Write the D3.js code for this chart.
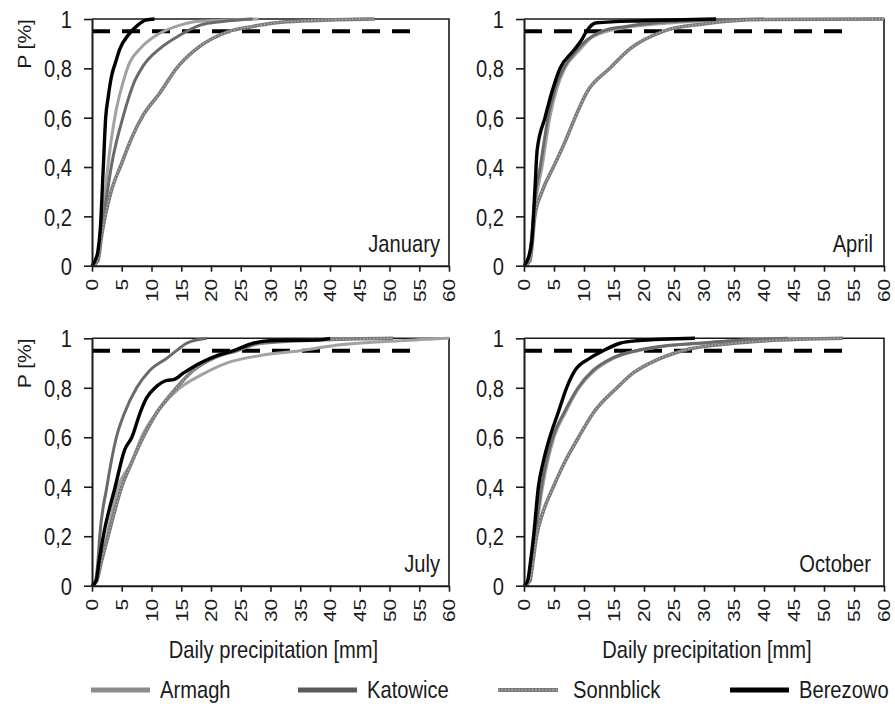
<!DOCTYPE html>
<html>
<head>
<meta charset="utf-8">
<script src="https://cdn.jsdelivr.net/npm/d3@7"></script>
<style>
  html, body { margin: 0; padding: 0; background: #fff; }
  svg { display: block; }
  text { font-family: "Liberation Sans", Arial, sans-serif; fill: #1a1a1a; }
</style>
</head>
<body>
<svg id="chart" width="895" height="714"></svg>
<script>
// ---------------- data ----------------
const months = ["January", "April", "July", "October"];
const stations = ["Armagh", "Katowice", "Sonnblick", "Berezowo"];
const xTickValues = [0, 5, 10, 15, 20, 25, 30, 35, 40, 45, 50, 55, 60];
const yTickValues = [0, 0.2, 0.4, 0.6, 0.8, 1];
const thresholdP = 0.95;
const thresholdEnd = 54.3;
const xAxisTitle = "Daily precipitation [mm]";
const yAxisTitle = "P [%]";

// [daily precipitation mm, cumulative probability]
const janArmagh = [[0,0],[0.7,0.02],[1.3,0.1],[1.8,0.2],[2.7,0.41],[3.9,0.61],[5.3,0.75],[6.1,0.81],[8.1,0.88],[10.9,0.935],[14.8,0.975],[17.5,0.99],[22,0.995],[28,1]];
const janKatowice = [[0,0],[0.8,0.02],[1.4,0.1],[2.0,0.2],[3.3,0.41],[5.3,0.61],[7.2,0.75],[8.6,0.81],[11.4,0.88],[14.8,0.935],[18.2,0.975],[22,0.99],[27,1]];
const janSonnblick = [[0,0],[1,0.02],[1.6,0.12],[2.2,0.2],[3.2,0.3],[4.9,0.41],[6.7,0.52],[8.6,0.61],[11.4,0.7],[14.2,0.8],[17.6,0.88],[23,0.95],[27,0.97],[31,0.985],[36,0.993],[41,0.997],[47.5,1]];
const janBerezowo = [[0,0],[0.5,0.02],[1,0.06],[1.4,0.15],[1.9,0.4],[2.3,0.6],[2.7,0.68],[3.3,0.77],[3.9,0.82],[4.7,0.88],[6.1,0.935],[7.7,0.975],[9,0.995],[10.5,1]];

const aprArmagh = [[0,0],[0.7,0.02],[1.3,0.1],[1.9,0.25],[3.0,0.4],[4.3,0.6],[5.5,0.72],[6.8,0.8],[9.1,0.87],[11,0.92],[13.8,0.95],[18,0.97],[25,0.985],[35,0.998],[60,1]];
const aprKatowice = [[0,0],[0.7,0.02],[1.2,0.1],[1.8,0.27],[2.7,0.4],[4.0,0.6],[5.2,0.72],[6.6,0.8],[8.7,0.87],[10.5,0.915],[13,0.95],[17,0.97],[22,0.985],[30,0.995],[40,1]];
const aprSonnblick = [[0,0],[1.0,0.02],[1.8,0.2],[3.0,0.3],[4.9,0.4],[6.8,0.5],[8.5,0.6],[10.4,0.7],[14.3,0.8],[17.7,0.88],[23.2,0.95],[29.9,0.98],[40,0.998],[60,1]];
const aprBerezowo = [[0,0],[0.7,0.03],[1.3,0.1],[1.8,0.3],[2.2,0.47],[3.5,0.6],[4.6,0.7],[6.0,0.8],[8.2,0.87],[9.6,0.915],[10.4,0.95],[12.1,0.985],[20,0.993],[32,1]];

const julArmagh = [[0,0],[0.8,0.02],[1.5,0.1],[2.5,0.2],[4.4,0.4],[6.7,0.5],[8.3,0.6],[10.9,0.7],[14.8,0.8],[18.2,0.85],[22.6,0.9],[28.2,0.93],[35,0.95],[40.5,0.97],[51.8,0.99],[60,1]];
const julKatowice = [[0,0],[0.6,0.02],[1.0,0.1],[1.3,0.2],[2.5,0.4],[4.1,0.6],[5.5,0.7],[7.5,0.8],[9.7,0.87],[12.6,0.92],[14.2,0.95],[15.9,0.98],[19.3,1]];
const julSonnblick = [[0,0],[0.8,0.02],[1.6,0.1],[2.7,0.2],[5.0,0.4],[6.7,0.5],[8.6,0.6],[10.9,0.7],[14.2,0.8],[17,0.87],[20.4,0.92],[24.3,0.95],[28.2,0.98],[38,0.993],[50.6,1]];
const julBerezowo = [[0,0],[0.7,0.02],[1.2,0.1],[1.9,0.2],[3.9,0.4],[5.5,0.55],[6.7,0.6],[8.1,0.7],[9.2,0.76],[10.6,0.8],[12.6,0.83],[13.7,0.833],[15.4,0.86],[18.2,0.9],[21,0.93],[23.8,0.95],[27.1,0.98],[29.9,0.99],[37.8,0.993],[40,1]];

const octArmagh = [[0,0],[0.8,0.02],[1.3,0.1],[1.9,0.2],[3.1,0.4],[5.0,0.6],[6.9,0.7],[9.2,0.8],[11.8,0.87],[15,0.92],[19,0.95],[24,0.97],[29.5,0.98],[35,0.99],[45,1]];
const octKatowice = [[0,0],[0.8,0.02],[1.2,0.1],[1.8,0.2],[2.9,0.4],[4.8,0.6],[6.7,0.7],[9.0,0.8],[11.5,0.87],[14.7,0.92],[18.6,0.95],[23.6,0.97],[29,0.98],[34.5,0.99],[44,1]];
const octSonnblick = [[0,0],[1,0.02],[1.5,0.1],[2.1,0.2],[3.2,0.3],[4.9,0.4],[6.8,0.5],[9.1,0.6],[11.6,0.7],[15.5,0.8],[18.2,0.86],[21,0.9],[26.4,0.95],[35,0.98],[40.5,0.99],[53.2,1]];
const octBerezowo = [[0,0],[0.6,0.02],[1.1,0.1],[1.6,0.2],[2.4,0.4],[3.2,0.5],[4.3,0.6],[5.7,0.7],[7.1,0.8],[8.5,0.87],[11,0.92],[13.2,0.95],[16,0.98],[18.8,0.99],[28.5,1]];

const panelSeries = [
  [janArmagh, janKatowice, janSonnblick, janBerezowo],
  [aprArmagh, aprKatowice, aprSonnblick, aprBerezowo],
  [julArmagh, julKatowice, julSonnblick, julBerezowo],
  [octArmagh, octKatowice, octSonnblick, octBerezowo]
];

// ---------------- styles / layout ----------------
const stationColor = { Armagh: "#a2a2a2", Katowice: "#6a6a6a", Sonnblick: "#7a7a7a", Berezowo: "#000000" };
const panels = [
  { left: 92,  right: 449, top: 19,    bottom: 265.7, titleX: 440, titleY: 252, yLabel: true,  xTitle: false },
  { left: 524, right: 884, top: 19,    bottom: 265.7, titleX: 873, titleY: 252, yLabel: false, xTitle: false },
  { left: 92,  right: 449, top: 338.3, bottom: 585.7, titleX: 440, titleY: 572, yLabel: true,  xTitle: true },
  { left: 524, right: 884, top: 338.3, bottom: 585.7, titleX: 871, titleY: 572, yLabel: false, xTitle: true }
];
const HS = 0.84; // horizontal squeeze of text

const svg = d3.select("#chart");
const fmtY = d => d === 0 ? "0" : d === 1 ? "1" : d.toFixed(1).replace(".", ",");

panels.forEach((p, i) => {
  const x = d3.scaleLinear().domain([0, 60]).range([p.left, p.right]);
  const y = d3.scaleLinear().domain([0, 1]).range([p.bottom, p.top]);
  const g = svg.append("g");

  // frame (top & right)
  g.append("path")
    .attr("d", `M${x(0)},${y(1)}H${x(60)}V${y(0)}`)
    .attr("fill", "none").attr("stroke", "#1a1a1a").attr("stroke-width", 1.6);

  // threshold dashed line
  g.append("line")
    .attr("x1", x(0)).attr("x2", x(thresholdEnd))
    .attr("y1", y(thresholdP)).attr("y2", y(thresholdP))
    .attr("stroke", "#000").attr("stroke-width", 4)
    .attr("stroke-dasharray", "18,12");

  // curves
  const line = d3.line().x(d => x(d[0])).y(d => y(d[1])).curve(d3.curveMonotoneX);
  [0, 1, 2, 3].forEach(si => {
    const name = stations[si];
    const data = panelSeries[i][si];
    if (name === "Sonnblick") {
      g.append("path").attr("d", line(data)).attr("fill", "none")
        .attr("stroke", stationColor[name]).attr("stroke-width", 3.6)
        .attr("stroke-linejoin", "round");
      g.append("path").attr("d", line(data)).attr("fill", "none")
        .attr("stroke", "#b8b8b8").attr("stroke-width", 1.3)
        .attr("stroke-dasharray", "1.2,2.2");
    } else {
      g.append("path").attr("d", line(data)).attr("fill", "none")
        .attr("stroke", stationColor[name])
        .attr("stroke-width", name === "Berezowo" ? 3.4 : 3)
        .attr("stroke-linejoin", "round");
    }
  });

  // y axis
  const ya = g.append("g").attr("transform", `translate(${x(0)},0)`)
    .call(d3.axisLeft(y).tickValues(yTickValues).tickFormat(fmtY).tickSize(8).tickSizeOuter(0));
  ya.attr("font-family", null).attr("font-size", null);
  ya.select(".domain").attr("stroke", "#1a1a1a").attr("stroke-width", 2);
  ya.selectAll(".tick line").attr("stroke", "#1a1a1a").attr("stroke-width", 1.6);
  ya.selectAll(".tick text")
    .attr("x", 0).attr("dy", "0.36em")
    .attr("transform", `translate(-20,0) scale(${HS},1)`)
    .style("font-size", "24px").attr("fill", "#1a1a1a");

  // x axis
  const xa = g.append("g").attr("transform", `translate(0,${y(0)})`)
    .call(d3.axisBottom(x).tickValues(xTickValues).tickSize(6).tickSizeOuter(0));
  xa.attr("font-family", null).attr("font-size", null);
  xa.select(".domain").attr("stroke", "#1a1a1a").attr("stroke-width", 2);
  xa.selectAll(".tick line").attr("stroke", "#1a1a1a").attr("stroke-width", 1.6);
  xa.selectAll(".tick text")
    .attr("x", 0).attr("y", 0).attr("dy", "0.36em")
    .attr("text-anchor", "end")
    .attr("transform", `translate(0,13) scale(0.78,1) rotate(-90)`)
    .style("font-size", "21px").attr("fill", "#1a1a1a");

  // month title
  g.append("text")
    .attr("transform", `translate(${p.titleX},${p.titleY}) scale(${HS},1)`)
    .attr("text-anchor", "end").style("font-size", "24px")
    .text(months[i]);

  // y axis title
  if (p.yLabel) {
    g.append("text")
      .attr("transform", `translate(31,${p.top + 25}) scale(${HS},1) rotate(-90)`)
      .attr("text-anchor", "middle").style("font-size", "21px")
      .text(yAxisTitle);
  }
  // x axis title
  if (p.xTitle) {
    g.append("text")
      .attr("transform", `translate(${(p.left + p.right) / 2 + 3},658) scale(${HS},1)`)
      .attr("text-anchor", "middle").style("font-size", "24px")
      .text(xAxisTitle);
  }
});

// ---------------- legend ----------------
const legendX = [91, 298, 498, 730];
const legend = svg.append("g");
stations.forEach((name, i) => {
  const lx = legendX[i];
  const ly = 690;
  if (name === "Sonnblick") {
    legend.append("line").attr("x1", lx).attr("x2", lx + 60).attr("y1", ly).attr("y2", ly)
      .attr("stroke", stationColor[name]).attr("stroke-width", 4);
    legend.append("line").attr("x1", lx).attr("x2", lx + 60).attr("y1", ly).attr("y2", ly)
      .attr("stroke", "#b8b8b8").attr("stroke-width", 1.4).attr("stroke-dasharray", "1.2,2.2");
  } else {
    legend.append("line").attr("x1", lx).attr("x2", lx + 59).attr("y1", ly).attr("y2", ly)
      .attr("stroke", name === "Armagh" ? "#8c8c8c" : name === "Katowice" ? "#5a5a5a" : "#000")
      .attr("stroke-width", 5);
  }
  legend.append("text")
    .attr("transform", `translate(${lx + (name === "Sonnblick" ? 75 : 69)},${ly + 8}) scale(${HS},1)`)
    .style("font-size", "24px")
    .text(name);
});
</script>
</body>
</html>
